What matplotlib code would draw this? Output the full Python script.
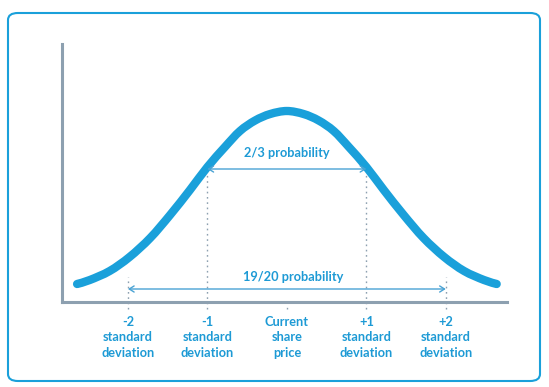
import numpy as np
import matplotlib
matplotlib.use('Agg')
from matplotlib import pyplot as plt
from matplotlib.patches import FancyBboxPatch, PathPatch
from matplotlib.path import Path

plt.rcParams['font.family'] = ['Lato', 'DejaVu Sans']

# %% data (x in standard deviations, y = curve height)

curve_x = [-2.64, -2.48, -2.23, -1.98, -1.72, -1.47, -1.22, -1.0, -0.78, -0.59,
           -0.40, -0.21, 0.0,
           0.21, 0.40, 0.59, 0.78, 1.0, 1.22, 1.47, 1.72, 1.98,
           2.23, 2.48, 2.64]
curve_y = [18, 22, 31, 45, 64, 87, 112, 135, 155, 171,
           181.5, 188, 191,
           188, 181.5, 171, 155, 135, 112, 87, 64, 45,
           31, 22, 18]

tick_pos = [-2, -1, 0, 1, 2]
tick_labels = ['-2\nstandard\ndeviation', '-1\nstandard\ndeviation',
               'Current\nshare\nprice', '+1\nstandard\ndeviation',
               '+2\nstandard\ndeviation']

inner_label = '2/3 probability'
outer_label = '19/20 probability'

# %% colours

blue = '#1aa0da'
text_blue = '#1d9ad5'
arrow_blue = '#4aa3d4'
grey = '#8da0b0'


def smooth_path(xs, ys):
    """Catmull-Rom through the read points, drawn as cubic Bezier segments."""
    p = np.column_stack([xs, ys]).astype(float)
    p = np.vstack([p[0], p, p[-1]])
    verts = [p[1]]
    codes = [Path.MOVETO]
    for i in range(1, len(p) - 2):
        c1 = p[i] + (p[i + 1] - p[i - 1]) / 6
        c2 = p[i + 1] - (p[i + 2] - p[i]) / 6
        verts += [c1, c2, p[i + 1]]
        codes += [Path.CURVE4] * 3
    return Path(verts, codes)


# %% figure

fig = plt.figure(figsize=(5.49, 3.87), dpi=100)

# outer rounded frame
frame = FancyBboxPatch((8 / 549, 6 / 387), 532 / 549, 368 / 387,
                       boxstyle='round,pad=0,rounding_size=0.018',
                       transform=fig.transFigure, fill=False,
                       edgecolor=blue, lw=1.5)
fig.patches.append(frame)

ax = fig.add_axes([62 / 549, 85 / 387, 445 / 549, 258 / 387])
ax.set_xlim(-2.83, 2.77)
ax.set_ylim(0, 258)

for s in ['top', 'right']:
    ax.spines[s].set_visible(False)
for s in ['left', 'bottom']:
    ax.spines[s].set_color(grey)
    ax.spines[s].set_linewidth(2.2)

ax.add_patch(PathPatch(smooth_path(curve_x, curve_y), fill=False,
                       edgecolor=blue, lw=6, capstyle='round',
                       joinstyle='round'))

# dotted markers
dot = dict(color=grey, lw=1.0, linestyle=(0, (1.2, 2.6)), clip_on=False)
ax.vlines([-1, 1], -7, 127, **dot)
ax.vlines([-2, 2], -7, 25, **dot)
ax.vlines([0], -7, -3, **dot)

# arrows
arr = dict(arrowstyle='<->,head_length=0.35,head_width=0.22', color=arrow_blue,
           lw=1.0, shrinkA=0, shrinkB=0)
ax.annotate('', xy=(1, 133), xytext=(-1, 133), arrowprops=arr)
ax.annotate('', xy=(2, 13), xytext=(-2, 13), arrowprops=arr)

ax.text(0, 149, inner_label, color=text_blue, fontsize=9.2, ha='center',
        va='center', fontweight='bold')
ax.text(0.08, 25, outer_label, color=text_blue, fontsize=9.2, ha='center',
        va='center', fontweight='bold')

ax.set_yticks([])
ax.set_xticks(tick_pos)
ax.set_xticklabels(tick_labels, color=text_blue, fontsize=9.2,
                   fontweight='bold', linespacing=1.35)
ax.tick_params(axis='x', length=0, pad=10)

fig.savefig('out.png', dpi=100)
